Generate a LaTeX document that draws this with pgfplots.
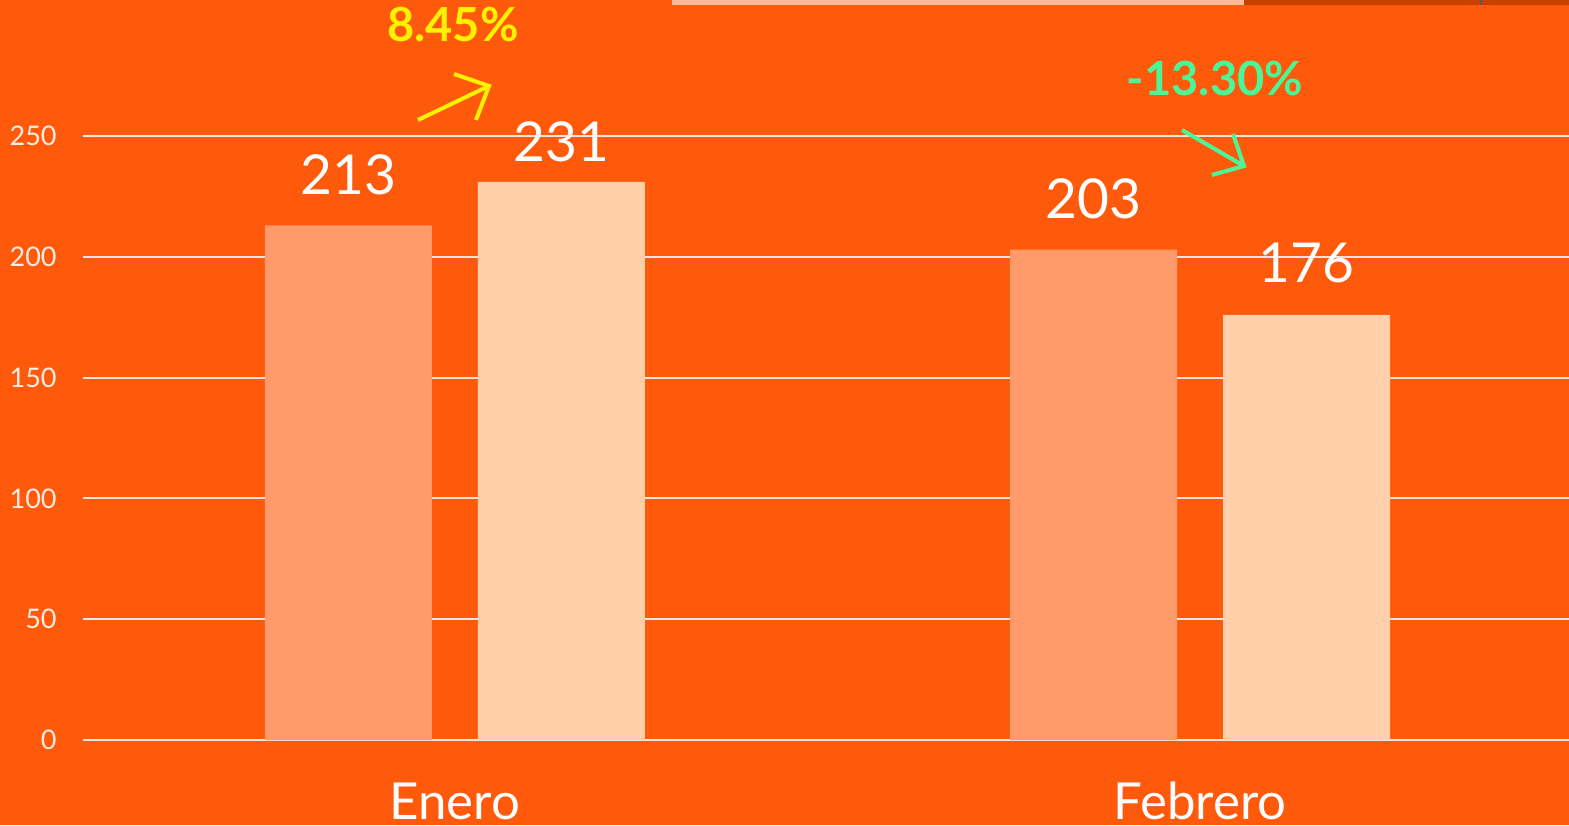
\documentclass[border=0pt]{standalone}
\usepackage{pgfplots}
\pgfplotsset{compat=1.18}
\usepackage{pgfplotstable}
\usepackage{fontspec}
\setmainfont{Lato}
\definecolor{bg}{RGB}{255,89,11}
\definecolor{barA}{RGB}{255,155,106}
\definecolor{barB}{RGB}{255,208,170}
\definecolor{gridc}{RGB}{240,228,222}
\definecolor{tickc}{RGB}{255,236,226}
\definecolor{upc}{RGB}{255,242,0}
\definecolor{downc}{RGB}{76,245,150}
\definecolor{stripA}{RGB}{255,187,153}
\definecolor{stripB}{RGB}{200,64,0}
\pgfplotstableread{
x y s
0 213 15.5
1 203 15.5
}\serA
\pgfplotstableread{
x y s
0 231 10
1 176 16
}\serB
\begin{document}
\begin{tikzpicture}
\fill[bg] (0,0) rectangle (784.5pt,412.5pt);
\path[use as bounding box, clip] (0,0) rectangle (784.5pt,412.5pt);
\begin{axis}[
  at={(41.5pt,42.5pt)}, anchor=south west,
  scale only axis, width=743pt, height=338.24pt,
  xmin=-0.4993, xmax=1.4953, ymin=0, ymax=280,
  clip=false,
  /pgf/number format/assume math mode=true,
  axis line style={draw=none},
  major tick length=0pt,
  ytick={0,50,100,150,200,250},
  ymajorgrids,
  grid style={color=gridc, line width=1pt},
  yticklabel style={font=\fontsize{13.5}{15}\selectfont, color=tickc, anchor=east, inner sep=0pt, xshift=-13pt},
  xtick={0,1},
  xticklabels={Enero,Febrero},
  xticklabel style={font=\fontsize{25.5}{27}\selectfont, color=white, anchor=base, inner sep=0pt, yshift=-39.5pt},
  ybar=23pt, bar width=83.5pt,
  nodes near coords,
  visualization depends on={\thisrow{s} \as \myshift},
  every node near coord/.append style={font=\fontsize{27.5}{29}\selectfont, color=white, anchor=base, yshift=\myshift pt},
]
\addplot[draw=none, fill=barA] table[x=x, y=y] {\serA};
\addplot[draw=none, fill=barB] table[x=x, y=y] {\serB};
\end{axis}
\begin{scope}[shift={(0pt,412.5pt)}, x=0.5pt, y=-0.5pt]
  \fill[stripA] (672,0) rectangle (1244,5);
  \fill[stripB] (1244,0) rectangle (1569,5);
  \fill[gray!70!black] (1480,0) rectangle (1482,5);
  \draw[upc, line width=2pt] (418,120) -- (489,86);
  \draw[upc, line width=2pt] (454,74) -- (489,86) -- (476,120);
  \draw[downc, line width=2pt] (1182,130) -- (1244,166);
  \draw[downc, line width=2pt] (1233,134) -- (1244,166) -- (1212,175);
  \node[font=\fontsize{23.5}{26}\bfseries\selectfont, color=upc, inner sep=0pt] at (453,25) {8.45\%};
  \node[font=\fontsize{23.5}{26}\bfseries\selectfont, color=downc, inner sep=0pt] at (1215,79) {-13.30\%};
\end{scope}
\end{tikzpicture}
\end{document}
